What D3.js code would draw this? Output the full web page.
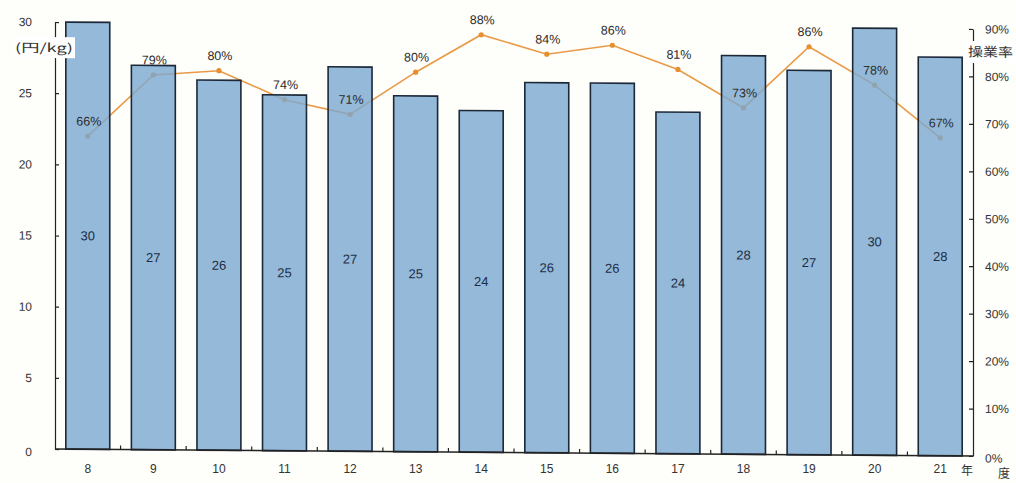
<!DOCTYPE html>
<html><head><meta charset="utf-8">
<script src="https://cdn.jsdelivr.net/npm/d3@7"></script>
<style>
body{margin:0;background:#fefefa;}
svg{display:block;font-family:"Liberation Sans",Arial,sans-serif;}
</style></head><body>
<svg id="c" width="1016" height="483"></svg>
<script>
// ---- data ----
const categories = ["8","9","10","11","12","13","14","15","16","17","18","19","20","21"];
const prices = [30,27,26,25,27,25,24,26,26,24,28,27,30,28];      // 円/kg
const rates  = [66,79,80,74,71,80,88,84,86,81,73,86,78,67];      // 操業率 %
const leftTicks  = [0,5,10,15,20,25,30];
const rightTicks = [0,10,20,30,40,50,60,70,80,90];
const leftUnit  = "(円/kg)";
const rightUnit = "操業率";
const yearSuffix = "年";
const fySuffix   = "度";

// ---- layout ----
const svg = d3.select("#c");
const X0 = 55, X1 = 973, Y0 = 449, Y1 = 22;
const x  = d3.scaleBand().domain(categories).range([X0, X1]).paddingInner(0.33).paddingOuter(0.165);
const yL = d3.scaleLinear().domain([0,30]).range([Y0, Y1]);
const yR = d3.scaleLinear().domain([0,90]).range([Y0, Y1]);
const cx = d => x(d) + x.bandwidth()/2;

const skewDeg = Math.atan(7/918) * 180 / Math.PI;
const k = Math.tan(skewDeg*Math.PI/180);
const g = svg.append("g").attr("transform", `translate(0,${-X0*k}) skewY(${skewDeg})`);

const CJK = '"Noto Sans CJK JP","Noto Sans CJK SC",sans-serif';

// line (under bars)
const pts = categories.map((c,i)=>[cx(c), yR(rates[i])]);
g.append("path").attr("d", d3.line()(pts))
  .attr("fill","none").attr("stroke","#e99a48").attr("stroke-width",1.6);
g.selectAll("circle.pt").data(pts).join("circle").attr("class","pt")
  .attr("cx",d=>d[0]).attr("cy",d=>d[1]).attr("r",2.6).attr("fill","#e8902e");

// bars
g.selectAll("rect.bar").data(categories).join("rect").attr("class","bar")
  .attr("x", d=>x(d)).attr("width", x.bandwidth())
  .attr("y", (d,i)=>yL(prices[i])).attr("height",(d,i)=>yL(0)-yL(prices[i]))
  .attr("fill","rgb(122,167,208)").attr("fill-opacity",0.8)
  .attr("stroke","#1b2838").attr("stroke-width",1.6);

// bar labels
g.selectAll("text.bl").data(categories).join("text").attr("class","bl")
  .attr("x", d=>cx(d)).attr("y",(d,i)=>(yL(prices[i])+yL(0))/2)
  .attr("dy","0.35em").attr("text-anchor","middle")
  .attr("font-size",13).attr("fill","#1e2e48")
  .text((d,i)=>d3.format("d")(prices[i]));

// line labels
g.selectAll("text.ll").data(categories).join("text").attr("class","ll")
  .attr("x", d=>cx(d)+1).attr("y",(d,i)=>yR(rates[i])-15)
  .attr("dy","0.35em").attr("text-anchor","middle")
  .attr("font-size",12.5).attr("fill","#2a2a2a")
  .text((d,i)=>rates[i]+"%");

// left axis
const la = g.append("g").attr("transform",`translate(${X0},0)`)
  .call(d3.axisLeft(yL).tickValues(leftTicks).tickSize(-4).tickSizeOuter(0).tickPadding(23));
la.selectAll("text").attr("font-size",12).attr("fill","#333").attr("font-family",null);
la.selectAll("line,path").attr("stroke","#222").attr("stroke-width",1.2);
la.selectAll(".tick").filter(d=>d===0).select("text").attr("transform","translate(0,3)");

// right axis
const ra = g.append("g").attr("transform",`translate(${X1},0)`)
  .call(d3.axisRight(yR).tickValues(rightTicks).tickSize(-4).tickSizeOuter(0).tickPadding(12).tickFormat(d=>d+"%"));
ra.selectAll("text").attr("font-size",12).attr("fill","#333").attr("font-family",null);
ra.selectAll("line,path").attr("stroke","#222").attr("stroke-width",1.2);
ra.selectAll(".tick").filter(d=>d===0).select("text").attr("transform","translate(0,2)");

// baseline + small ticks between bars
g.append("line").attr("x1",X0).attr("x2",X1).attr("y1",yL(0)).attr("y2",yL(0))
  .attr("stroke","#222").attr("stroke-width",1.5);
const step = x.step();
g.selectAll("line.sep").data(categories.slice(0,-1)).join("line").attr("class","sep")
  .attr("x1",d=>x(d)+x.bandwidth()+(step-x.bandwidth())/2)
  .attr("x2",d=>x(d)+x.bandwidth()+(step-x.bandwidth())/2)
  .attr("y1",yL(0)).attr("y2",yL(0)-4).attr("stroke","#222").attr("stroke-width",1.2);

// unit labels with white backing
g.append("rect").attr("x",13).attr("y",37).attr("width",62).attr("height",21).attr("fill","#ffffff");
g.append("text").attr("x",15).attr("y",48).attr("dy","0.35em")
  .attr("font-size",12).attr("font-family",CJK).attr("fill","#333")
  .attr("textLength",58).attr("lengthAdjust","spacingAndGlyphs").text(leftUnit);
g.append("rect").attr("x",964).attr("y",34).attr("width",52).attr("height",22).attr("fill","#ffffff");
g.append("text").attr("x",968).attr("y",45).attr("dy","0.35em")
  .attr("font-size",13).attr("font-family",CJK).attr("fill","#333")
  .attr("textLength",45).attr("lengthAdjust","spacingAndGlyphs").text(rightUnit);

// x axis labels (unskewed)
const xa = svg.append("g").attr("transform",`translate(0,${Y0})`)
  .call(d3.axisBottom(x).tickSize(0).tickPadding(15));
xa.select(".domain").remove();
xa.selectAll("text").attr("font-size",12).attr("fill","#333").attr("font-family",null);
svg.append("text").attr("x",967).attr("y",471).attr("dy","0.35em").attr("text-anchor","middle")
  .attr("font-size",12).attr("font-family",CJK).attr("fill","#333").text(yearSuffix);
svg.append("text").attr("x",1004).attr("y",474).attr("dy","0.35em").attr("text-anchor","middle")
  .attr("font-size",12).attr("font-family",CJK).attr("fill","#333").text(fySuffix);
</script>
</body></html>
